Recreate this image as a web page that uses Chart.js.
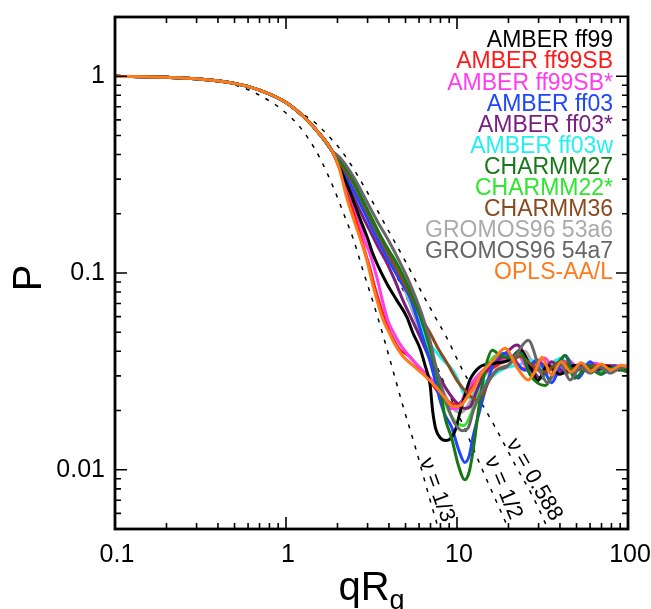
<!DOCTYPE html>
<html>
<head>
<meta charset="utf-8">
<script src="https://cdn.jsdelivr.net/npm/chart.js@4.4.1/dist/chart.umd.min.js"></script>
<style>
  html, body { margin: 0; padding: 0; background: #fff; }
  #wrap { width: 651px; height: 609px; }
</style>
</head>
<body>
<div id="wrap"><canvas id="chart" width="651" height="609"></canvas></div>
<script>
const xTicks = [0.1, 1, 10, 100];
const yTicks = [0.01, 0.1, 1];

// every force field sits on the same curve at low qRg
const lowQ = [[0.1, 1], [0.2, 0.987], [0.3, 0.97], [0.5, 0.92], [0.7, 0.85], [1, 0.735], [1.3, 0.61], [1.6, 0.5], [1.85, 0.42]];

const ff99 = [...lowQ, [2.1, 0.33], [2.4, 0.25], [2.7, 0.19], [3.0, 0.15], [3.2, 0.127], [3.4, 0.112], [3.9, 0.088], [4.45, 0.0726], [5.1, 0.0595], [5.5, 0.05], [6.1, 0.041], [6.5, 0.034], [6.96, 0.027], [7.2, 0.02], [7.5, 0.0162], [8.0, 0.0145], [8.6, 0.0141], [9.1, 0.0143], [9.8, 0.016], [10.4, 0.0195], [11.3, 0.025], [11.9, 0.0286], [13.6, 0.0333], [16.7, 0.0348], [20.4, 0.0362], [23.3, 0.0405], [27.4, 0.0321], [29.6, 0.0283], [33.8, 0.034], [40.1, 0.0306], [48.8, 0.034], [60.1, 0.0314], [73.4, 0.0337], [89.9, 0.0321], [100, 0.0329]];
const ff99sb = [...lowQ, [2.1, 0.325], [2.32, 0.245], [2.6, 0.18], [2.86, 0.133], [3.1, 0.105], [3.3, 0.085], [3.6, 0.066], [3.9, 0.054], [4.3, 0.045], [4.65, 0.0405], [5.0, 0.039], [5.32, 0.0374], [6.0, 0.033], [7.0, 0.028], [8.0, 0.024], [9.0, 0.022], [9.8, 0.0215], [10.5, 0.022], [11.6, 0.025], [13.95, 0.0303], [17.1, 0.034], [20.4, 0.0381], [23.8, 0.0329], [26.8, 0.032], [29.3, 0.0361], [35, 0.0321], [42.8, 0.0354], [52.5, 0.0329], [68.7, 0.034], [100, 0.0333]];
const ff99sbStar = [...lowQ, [2.1, 0.33], [2.35, 0.255], [2.65, 0.19], [2.9, 0.145], [3.1, 0.125], [3.4, 0.095], [3.7, 0.07], [3.95, 0.057], [4.3, 0.049], [4.6, 0.044], [5.5, 0.0361], [6.7, 0.0303], [8.0, 0.0254], [9.3, 0.0205], [10.2, 0.0205], [11.1, 0.0242], [12.8, 0.0292], [15.6, 0.034], [19.1, 0.0361], [22.7, 0.0381], [26.8, 0.0314], [32.6, 0.037], [38.5, 0.0303], [44.6, 0.0361], [52.5, 0.0321], [64.1, 0.0348], [78.6, 0.0329], [100, 0.0337]];
const ff03 = [...lowQ, [2.1, 0.345], [2.5, 0.26], [2.9, 0.2], [3.3, 0.158], [3.9, 0.12], [4.17, 0.108], [4.7, 0.09], [5.32, 0.075], [5.8, 0.06], [6.3, 0.047], [6.8, 0.038], [7.26, 0.031], [7.96, 0.0226], [8.5, 0.019], [9.3, 0.0165], [10.2, 0.0127], [11.1, 0.0109], [11.8, 0.0118], [12.3, 0.0142], [13.6, 0.0201], [15.2, 0.0286], [16.7, 0.0361], [19.1, 0.0391], [22, 0.0348], [25.1, 0.0321], [29.3, 0.0361], [32, 0.033], [35.7, 0.0277], [42.8, 0.0381], [51.2, 0.0292], [60.1, 0.0354], [69.5, 0.0306], [84, 0.0337], [100, 0.0321]];
const ff03Star = [...lowQ, [2.1, 0.34], [2.45, 0.25], [2.8, 0.195], [3.2, 0.155], [3.5, 0.133], [3.9, 0.112], [4.3, 0.093], [4.83, 0.0726], [5.4, 0.059], [6.08, 0.0473], [6.7, 0.039], [7.26, 0.0333], [8.0, 0.029], [8.74, 0.0254], [10, 0.0218], [11.1, 0.0205], [12, 0.021], [12.8, 0.0242], [14.6, 0.0314], [16.7, 0.0348], [19.5, 0.0395], [22.4, 0.043], [26.8, 0.034], [30.6, 0.0292], [35.7, 0.0354], [42.8, 0.031], [52.5, 0.0344], [64.1, 0.0321], [80.6, 0.0337], [100, 0.0329]];
const ff03w = [...lowQ, [2.1, 0.35], [2.5, 0.275], [2.9, 0.21], [3.3, 0.165], [3.8, 0.13], [4.2, 0.113], [4.8, 0.09], [5.5, 0.068], [6.1, 0.055], [6.68, 0.0455], [7.5, 0.04], [8.28, 0.0361], [9.2, 0.033], [10, 0.0295], [10.8, 0.025], [11.5, 0.0232], [12.5, 0.0236], [13.1, 0.0254], [15.6, 0.0292], [19.1, 0.0329], [22.7, 0.034], [26.8, 0.0361], [32.6, 0.0321], [40.1, 0.0369], [48.8, 0.0314], [60.1, 0.035], [78.6, 0.0329], [100, 0.0337]];
const charmm27 = [...lowQ, [2.1, 0.365], [2.4, 0.31], [2.65, 0.26], [3.0, 0.21], [3.5, 0.16], [4.0, 0.13], [4.34, 0.116], [4.9, 0.095], [5.53, 0.075], [6.1, 0.06], [6.68, 0.047], [7.2, 0.037], [7.64, 0.0303], [8.1, 0.024], [8.5, 0.0185], [9.3, 0.0145], [10.2, 0.0105], [11.1, 0.0089], [11.8, 0.0098], [12.5, 0.013], [13.6, 0.0226], [14.8, 0.034], [16.1, 0.0405], [17.9, 0.0381], [20.4, 0.037], [23.4, 0.0395], [26.8, 0.0303], [32.6, 0.0268], [38.5, 0.034], [42.8, 0.0381], [48.8, 0.0292], [58.4, 0.0337], [68.7, 0.0306], [80.6, 0.033], [100, 0.0314]];
const charmm22Star = [...lowQ, [2.1, 0.36], [2.5, 0.285], [2.9, 0.22], [3.4, 0.165], [4.0, 0.127], [4.6, 0.1], [5.3, 0.075], [6.0, 0.055], [6.7, 0.041], [7.4, 0.031], [8.2, 0.024], [9.2, 0.019], [10.2, 0.017], [11, 0.0168], [12, 0.019], [13.5, 0.026], [15, 0.033], [17, 0.038], [20, 0.036], [23, 0.039], [27, 0.032], [31, 0.029], [37, 0.035], [44, 0.031], [53, 0.0345], [66, 0.0315], [82, 0.0335], [100, 0.0325]];
const charmm36 = [...lowQ, [2.1, 0.355], [2.5, 0.28], [2.9, 0.215], [3.3, 0.17], [3.7, 0.14], [4.15, 0.116], [4.8, 0.092], [5.53, 0.0726], [6.2, 0.059], [6.96, 0.0495], [7.8, 0.041], [8.74, 0.0349], [10.2, 0.0277], [11.5, 0.0245], [13.1, 0.0226], [14.2, 0.024], [15, 0.0271], [17.1, 0.0321], [19.9, 0.034], [23.4, 0.0377], [27.4, 0.034], [32.6, 0.0314], [40.1, 0.0354], [48.8, 0.0321], [61.8, 0.034], [78.6, 0.0325], [100, 0.0333]];
const gromos53a6 = [...lowQ, [2.1, 0.35], [2.5, 0.265], [2.9, 0.205], [3.4, 0.155], [4.0, 0.12], [4.6, 0.096], [5.3, 0.07], [6.0, 0.052], [6.8, 0.039], [7.6, 0.03], [8.5, 0.024], [9.5, 0.0205], [10.5, 0.0195], [11.5, 0.021], [13, 0.026], [15, 0.031], [18, 0.0345], [21, 0.037], [25, 0.04], [28, 0.034], [32, 0.0305], [38, 0.036], [45, 0.031], [55, 0.0345], [68, 0.0318], [85, 0.0335], [100, 0.0328]];
const gromos54a7 = [...lowQ, [2.1, 0.38], [2.5, 0.305], [2.9, 0.24], [3.4, 0.185], [4.0, 0.145], [4.6, 0.115], [5.2, 0.092], [5.8, 0.073], [6.3, 0.06], [6.96, 0.045], [7.5, 0.034], [7.96, 0.028], [8.74, 0.0215], [9.6, 0.0175], [10.8, 0.0158], [11.6, 0.0163], [12.5, 0.0201], [13.6, 0.024], [15, 0.0277], [17.1, 0.0321], [19.5, 0.0333], [22.4, 0.0391], [26.1, 0.0455], [30.6, 0.0321], [33.8, 0.0277], [40.1, 0.0348], [45.9, 0.0286], [52.5, 0.0333], [60.1, 0.031], [68.7, 0.0333], [78.6, 0.031], [93, 0.0333], [100, 0.0326]];
const oplsAAL = [...lowQ, [2.05, 0.34], [2.27, 0.24], [2.5, 0.185], [2.75, 0.145], [2.98, 0.115], [3.23, 0.086], [3.5, 0.067], [3.75, 0.056], [4.0, 0.05], [4.3, 0.044], [4.8, 0.038], [5.5, 0.034], [6.5, 0.03], [7.5, 0.0265], [8.5, 0.0232], [9.5, 0.021], [10.5, 0.0212], [11.5, 0.0235], [12.3, 0.0254], [13.9, 0.031], [16.3, 0.036], [19.1, 0.0414], [22.5, 0.033], [26.1, 0.0286], [28.8, 0.032], [31.4, 0.0373], [35.7, 0.0303], [40.6, 0.0354], [46.5, 0.0314], [53.2, 0.035], [60.8, 0.0317], [69.5, 0.0345], [79.5, 0.0321], [91, 0.034], [100, 0.0333]];

// scaling reference curves (dashed)
const nuThird = [[0.1, 1], [0.2, 0.985], [0.3, 0.965], [0.54, 0.885], [0.84, 0.73], [1.0, 0.65], [1.2, 0.555], [1.4, 0.46], [1.6, 0.375], [1.9, 0.27], [2.2, 0.195], [2.5, 0.145], [2.8, 0.105], [3.2, 0.073], [3.7, 0.048], [4.2, 0.0325], [4.8, 0.0215], [5.8, 0.0124], [6.9, 0.0072], [7.8, 0.005], [8.3, 0.0042]];
const nuHalf = [[0.1, 1], [0.2, 0.987], [0.3, 0.971], [0.5, 0.92], [0.7, 0.85], [1, 0.736], [1.5, 0.53], [2, 0.377], [2.5, 0.27], [3, 0.197], [4, 0.117], [5, 0.077], [6, 0.054], [7, 0.04], [8.5, 0.027], [10, 0.0198], [12, 0.0138], [14, 0.0101], [17, 0.0069], [20, 0.005], [21, 0.0045]];
const nu588 = [[0.1, 1], [0.2, 0.987], [0.3, 0.971], [0.5, 0.92], [0.7, 0.855], [1, 0.745], [1.2, 0.66], [1.5, 0.575], [1.8, 0.49], [2.1, 0.42], [2.4, 0.355], [2.7, 0.3], [3.0, 0.256], [3.4, 0.21], [3.8, 0.176], [4.3, 0.145], [4.8, 0.122], [5.5, 0.098], [6.2, 0.08], [6.8, 0.069], [7.6, 0.058], [8.7, 0.047], [10.8, 0.032], [13.3, 0.0234], [16.7, 0.0165], [22, 0.0105], [28, 0.0072], [33, 0.0053], [35, 0.0047]];

const seriesNames = ['AMBER ff99', 'AMBER ff99SB', 'AMBER ff99SB*', 'AMBER ff03', 'AMBER ff03*', 'AMBER ff03w', 'CHARMM27', 'CHARMM22*', 'CHARMM36', 'GROMOS96 53a6', 'GROMOS96 54a7', 'OPLS-AA/L'];
const seriesValues = [ff99, ff99sb, ff99sbStar, ff03, ff03Star, ff03w, charmm27, charmm22Star, charmm36, gromos53a6, gromos54a7, oplsAAL];
const seriesColors = ['#000000', '#ff1a1a', '#ff3cf0', '#1f45ff', '#7a1f80', '#22f0f0', '#187818', '#2ee62e', '#8a4a1e', '#aaaaaa', '#666666', '#ff7a1a'];
const drawOrder = [5, 9, 8, 6, 7, 10, 2, 11, 4, 12, 1, 0];

const refNames = ['ν = 1/3', 'ν = 1/2', 'ν = 0.588'];
const refValues = [nuThird, nuHalf, nu588];
// where each reference label sits, in data units, and its tilt
const refLabelAt = [[7.6, 0.0079, 70], [18.6, 0.0081, 67], [28.2, 0.0089, 60]];

const FONT = '"Liberation Sans", Arial, Helvetica, sans-serif';

const toPoints = arr => arr.map(([x, y]) => ({ x, y }));

const datasets = seriesNames.map((name, i) => ({
    label: name,
    data: toPoints(seriesValues[i]),
    borderColor: seriesColors[i],
    borderWidth: 3,
    pointRadius: 0,
    fill: false,
    cubicInterpolationMode: 'monotone',
    order: drawOrder[i]
}));

refNames.forEach((name, i) => {
    datasets.push({
        label: name,
        data: toPoints(refValues[i]),
        borderColor: '#000',
        borderWidth: 1.5,
        borderDash: [4, 7],
        pointRadius: 0,
        fill: false,
        cubicInterpolationMode: 'monotone',
        order: 20
    });
});

const decorations = {
    id: 'decorations',
    afterDatasetsDraw(chart) {
        const { ctx, chartArea: a, scales: { x, y } } = chart;
        ctx.save();

        // inward ticks on all four sides
        ctx.strokeStyle = '#000';
        ctx.lineWidth = 1.6;
        const xMinor = [];
        [0.1, 1, 10].forEach(d => { for (let m = 2; m <= 9; m++) xMinor.push(m * d); });
        const yMinor = [];
        [0.001, 0.01, 0.1, 1].forEach(d => { for (let m = 2; m <= 9; m++) { const v = m * d; if (v >= 0.005 && v <= 2) yMinor.push(v); } });
        const tickX = (v, len) => {
            const px = x.getPixelForValue(v);
            ctx.beginPath();
            ctx.moveTo(px, a.bottom); ctx.lineTo(px, a.bottom - len);
            ctx.moveTo(px, a.top); ctx.lineTo(px, a.top + len);
            ctx.stroke();
        };
        const tickY = (v, len) => {
            const py = y.getPixelForValue(v);
            ctx.beginPath();
            ctx.moveTo(a.left, py); ctx.lineTo(a.left + len, py);
            ctx.moveTo(a.right, py); ctx.lineTo(a.right - len, py);
            ctx.stroke();
        };
        xMinor.forEach(v => tickX(v, 6));
        xTicks.forEach(v => tickX(v, 12));
        yMinor.forEach(v => tickY(v, 6));
        yTicks.forEach(v => tickY(v, 12));

        // frame
        ctx.lineWidth = 2.8;
        ctx.strokeRect(a.left, a.top, a.right - a.left, a.bottom - a.top);

        // tick labels
        ctx.fillStyle = '#000';
        ctx.font = '25px ' + FONT;
        ctx.textAlign = 'center';
        ctx.textBaseline = 'middle';
        xTicks.forEach(v => ctx.fillText(String(v), x.getPixelForValue(v) + 2, a.bottom + 26));
        ctx.textAlign = 'right';
        yTicks.forEach(v => ctx.fillText(String(v), a.left - 10, y.getPixelForValue(v)));

        // axis titles
        ctx.font = '40px ' + FONT;
        ctx.textAlign = 'left';
        ctx.textBaseline = 'alphabetic';
        const qr = 'qR';
        const qrW = ctx.measureText(qr).width;
        ctx.font = '27px ' + FONT;
        const gW = ctx.measureText('g').width;
        const tx = (a.left + a.right) / 2 - (qrW + gW) / 2;
        ctx.font = '40px ' + FONT;
        ctx.fillText(qr, tx, 600);
        ctx.font = '27px ' + FONT;
        ctx.fillText('g', tx + qrW, 609);

        ctx.save();
        ctx.translate(41, (a.top + a.bottom) / 2 + 5);
        ctx.rotate(-Math.PI / 2);
        ctx.font = '40px ' + FONT;
        ctx.textAlign = 'center';
        ctx.fillText('P', 0, 0);
        ctx.restore();

        // legend: coloured names, right aligned inside the frame
        ctx.font = '23px ' + FONT;
        ctx.textAlign = 'right';
        ctx.textBaseline = 'middle';
        seriesNames.forEach((name, i) => {
            ctx.fillStyle = seriesColors[i];
            ctx.fillText(name, a.right - 15, a.top + 24 + i * 21.1);
        });

        // labels along the dashed scaling curves
        ctx.fillStyle = '#000';
        ctx.font = '22px ' + FONT;
        ctx.textAlign = 'center';
        refNames.forEach((name, i) => {
            const [vx, vy, deg] = refLabelAt[i];
            ctx.save();
            ctx.translate(x.getPixelForValue(vx), y.getPixelForValue(vy));
            ctx.rotate(deg * Math.PI / 180);
            ctx.fillText(name, 0, 0);
            ctx.restore();
        });

        ctx.restore();
    }
};

new Chart(document.getElementById('chart'), {
    type: 'line',
    data: { datasets },
    options: {
        responsive: false,
        animation: false,
        layout: { padding: { left: 115, right: 23, top: 17, bottom: 80 } },
        scales: {
            x: { type: 'logarithmic', min: 0.1, max: 100, display: false },
            y: { type: 'logarithmic', min: 0.005, max: 2, display: false }
        },
        plugins: {
            legend: { display: false },
            tooltip: { enabled: false }
        }
    },
    plugins: [decorations]
});
</script>
</body>
</html>
